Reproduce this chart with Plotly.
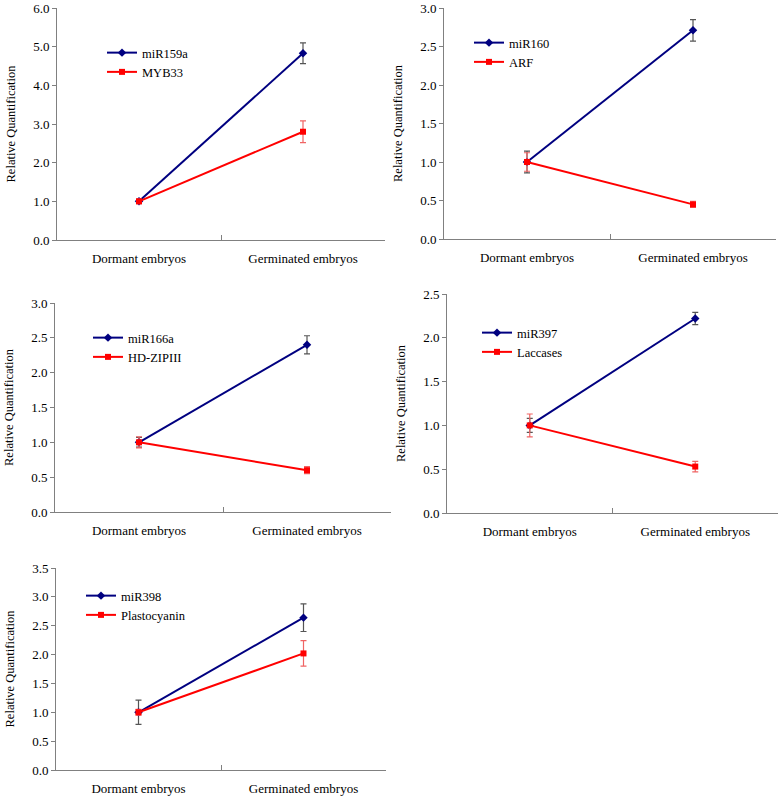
import plotly.graph_objects as go

categories = ["Dormant embryos", "Germinated embryos"]

mir159a = [1.0, 4.83]
mir159a_err = [0.05, 0.27]
myb33 = [1.0, 2.80]
myb33_err = [0.06, 0.28]

mir160 = [1.0, 2.71]
mir160_err = [0.14, 0.14]
arf = [1.0, 0.45]
arf_err = [0.12, 0.04]

mir166a = [1.0, 2.40]
mir166a_err = [0.07, 0.13]
hdzip = [1.0, 0.60]
hdzip_err = [0.08, 0.05]

mir397 = [1.0, 2.22]
mir397_err = [0.08, 0.07]
laccases = [1.0, 0.53]
laccases_err = [0.13, 0.06]

mir398 = [1.0, 2.64]
mir398_err = [0.21, 0.24]
plasto = [1.0, 2.02]
plasto_err = [0.05, 0.22]

panels = [
    ("miR159a", mir159a, mir159a_err, "MYB33", myb33, myb33_err, 6.0, 1.0),
    ("miR160", mir160, mir160_err, "ARF", arf, arf_err, 3.0, 0.5),
    ("miR166a", mir166a, mir166a_err, "HD-ZIPIII", hdzip, hdzip_err, 3.0, 0.5),
    ("miR397", mir397, mir397_err, "Laccases", laccases, laccases_err, 2.5, 0.5),
    ("miR398", mir398, mir398_err, "Plastocyanin", plasto, plasto_err, 3.5, 0.5),
]

W, H = 783, 800
# pixel boxes: (left, right, top, bottom)
boxes = [
    (57, 385, 8, 240),
    (444, 776, 8, 239),
    (55, 391, 303, 512),
    (447, 778, 294, 513),
    (56, 386, 568, 770),
]
# legend anchor pixels (left, top)
leg_pos = [(102, 38), (469, 28), (88, 323), (477, 318), (81, 581)]

BLUE = "#000080"
RED = "#FF0000"
FONT = "Liberation Serif"

fig = go.Figure()
layout = dict(
    width=W, height=H, margin=dict(l=0, r=0, t=0, b=0, autoexpand=False),
    paper_bgcolor="white", plot_bgcolor="white",
    font=dict(family=FONT, size=13, color="black"),
)

for i, (n1, v1, e1, n2, v2, e2, ymax, dt) in enumerate(panels):
    k = "" if i == 0 else str(i + 1)
    l, r, t, b = boxes[i]
    leg = "legend" + k
    fig.add_trace(go.Scatter(
        x=categories, y=v1, name=n1, mode="lines+markers",
        line=dict(color=BLUE, width=2),
        marker=dict(symbol="diamond", size=6.5, color=BLUE),
        error_y=dict(type="data", array=e1, color="#555555", thickness=1.2, width=3),
        xaxis="x" + k, yaxis="y" + k, legend=leg,
    ))
    fig.add_trace(go.Scatter(
        x=categories, y=v2, name=n2, mode="lines+markers",
        line=dict(color=RED, width=2),
        marker=dict(symbol="square", size=6, color=RED),
        error_y=dict(type="data", array=e2, color="#F06464", thickness=1.2, width=3),
        xaxis="x" + k, yaxis="y" + k, legend=leg,
    ))
    layout["xaxis" + k] = dict(
        domain=[l / W, r / W], anchor="y" + k, type="category", automargin=False,
        range=[-0.5, 1.5], showline=True, linecolor="#808080", linewidth=1,
        ticks="inside", tickson="boundaries", ticklen=5, tickcolor="#808080",
        showgrid=False, zeroline=False,
        tickfont=dict(family=FONT, size=13), ticklabelstandoff=6,
    )
    layout["yaxis" + k] = dict(
        domain=[1 - b / H, 1 - t / H], anchor="x" + k, automargin=False,
        range=[0, ymax], dtick=dt, tick0=0, tickformat=".1f",
        showline=True, linecolor="#808080", linewidth=1,
        ticks="outside", ticklen=4, tickcolor="#808080",
        showgrid=False, zeroline=False, tickfont=dict(family=FONT, size=13),
        title=dict(text="Relative Quantification",
                   font=dict(family=FONT, size=12.5), standoff=14),
    )
    lx, ly = leg_pos[i]
    layout[leg] = dict(
        x=lx / W, y=1 - ly / H, xanchor="left", yanchor="top",
        bgcolor="rgba(0,0,0,0)", font=dict(family=FONT, size=12.5),
        tracegroupgap=0, itemwidth=30,
    )

fig.update_layout(**layout)
fig.write_html(
    "out.html",
    config={"displayModeBar": False},
    post_script="document.body.style.margin='0';document.body.style.overflow='hidden';",
)
